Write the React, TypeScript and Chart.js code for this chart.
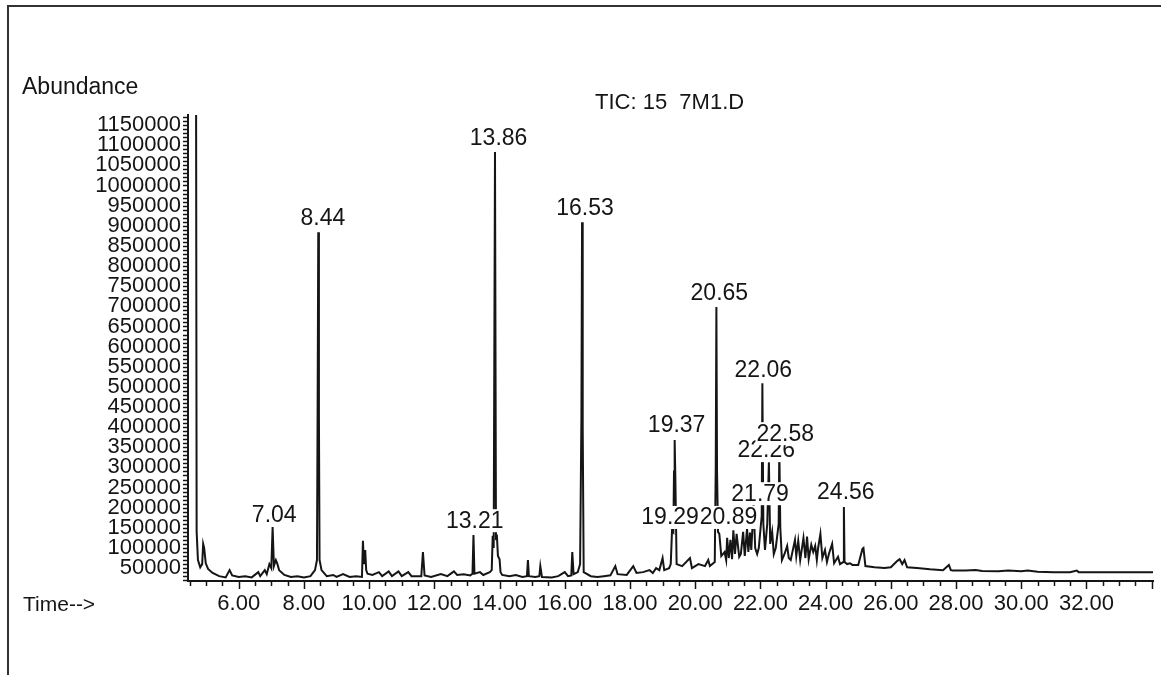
import React, { useEffect, useRef } from "react";
import { Chart, registerables } from "chart.js";

Chart.register(...registerables);

// Retention time (min) of each trace point
const retentionTime = [
  4.69, 4.71, 4.75, 4.82, 4.88, 4.91, 4.94, 4.99, 5.06, 5.20, 5.40, 5.60, 5.72, 5.80, 6.00, 6.20, 6.40,
  6.60, 6.66, 6.80, 6.86, 6.94, 7.00, 7.04, 7.08, 7.14, 7.18, 7.24, 7.40, 7.60, 7.80, 8.00, 8.20,
  8.34, 8.40, 8.42, 8.44, 8.46, 8.48, 8.54, 8.70, 8.90, 9.00, 9.20, 9.40, 9.60, 9.78, 9.81, 9.84, 9.88, 9.91, 9.95,
  10.10, 10.30, 10.40, 10.60, 10.70, 10.90, 11.00, 11.20, 11.30, 11.60, 11.65, 11.70, 11.90, 12.20,
  12.40, 12.60, 12.70, 12.90, 13.10, 13.17, 13.20, 13.23, 13.40, 13.50, 13.70, 13.76, 13.79, 13.82, 13.86, 13.89,
  13.92, 13.95, 14.00, 14.03, 14.08, 14.30, 14.50, 14.70, 14.84, 14.87, 14.90, 15.10, 15.22, 15.25, 15.30, 15.60, 15.80, 16.00,
  16.10, 16.20, 16.23, 16.27, 16.40, 16.47, 16.51, 16.53, 16.55, 16.58, 16.80, 17.00, 17.20, 17.40, 17.55, 17.62, 17.90,
  18.10, 18.20, 18.40, 18.60, 18.70, 18.80, 18.90, 19.00, 19.05, 19.20, 19.25, 19.29, 19.33, 19.35, 19.37, 19.39,
  19.43, 19.60, 19.84, 19.90, 20.10, 20.30, 20.40, 20.45, 20.60, 20.63, 20.65, 20.67, 20.70, 20.74, 20.80, 20.90,
  20.95, 20.98, 21.03, 21.08, 21.13, 21.17, 21.22, 21.27, 21.35, 21.40, 21.47, 21.52, 21.59, 21.63, 21.68, 21.72, 21.79, 21.84, 21.90, 21.95,
  22.04, 22.06, 22.09, 22.14, 22.21, 22.26, 22.30, 22.36, 22.41, 22.47, 22.56, 22.58, 22.61, 22.66, 22.74, 22.82, 22.87, 22.93, 23.06, 23.10, 23.16, 23.22, 23.32,
  23.38, 23.43, 23.48, 23.56, 23.62, 23.68, 23.73, 23.77, 23.84, 23.90, 23.98, 24.04, 24.10, 24.20, 24.26, 24.38, 24.44, 24.54, 24.56, 24.58, 24.66, 24.75, 24.82, 25.00,
  25.13, 25.16, 25.22, 25.50, 25.80, 26.00, 26.20, 26.27, 26.35, 26.42, 26.50, 26.80, 27.20, 27.60, 27.78, 27.84, 27.90,
  28.30, 28.60, 28.80, 29.30, 29.60, 30.00, 30.20, 30.50, 31.00, 31.50, 31.70, 31.76, 32.50, 33.00,
  34.04,
];

// Total ion current abundance at each retention time
const abundance = [
  1400000, 140000, 70000, 52000, 60000, 110000, 100000, 62000, 48000, 38000, 30000, 27000, 45000, 32000, 28000, 30000, 27000,
  40000, 30000, 45000, 35000, 60000, 50000, 152000, 55000, 70000, 62000, 45000, 33000, 28000, 30000, 27000, 30000,
  45000, 70000, 440000, 884000, 430000, 70000, 45000, 30000, 33000, 28000, 35000, 28000, 30000, 28000, 118000, 60000, 95000, 45000, 36000,
  33000, 40000, 30000, 42000, 30000, 42000, 30000, 40000, 30000, 30000, 90000, 32000, 28000, 35000,
  30000, 42000, 33000, 35000, 32000, 36000, 132000, 36000, 40000, 33000, 40000, 45000, 130000, 100000, 1083000, 125000,
  128000, 80000, 72000, 40000, 33000, 30000, 33000, 28000, 30000, 70000, 30000, 28000, 30000, 55000, 28000, 27000, 30000, 40000,
  30000, 32000, 90000, 35000, 40000, 60000, 420000, 909000, 400000, 40000, 30000, 28000, 30000, 32000, 55000, 35000, 33000,
  55000, 38000, 40000, 45000, 38000, 50000, 45000, 75000, 45000, 50000, 60000, 145000, 140000, 290000, 368000, 280000,
  60000, 55000, 75000, 50000, 60000, 55000, 70000, 55000, 65000, 300000, 698000, 290000, 140000, 135000, 80000, 90000,
  70000, 125000, 75000, 120000, 72000, 144000, 85000, 135000, 78000, 85000, 140000, 80000, 148000, 90000, 138000, 95000, 206000, 100000, 85000, 100000,
  180000, 509000, 160000, 95000, 160000, 313000, 110000, 140000, 85000, 100000, 160000, 348000, 150000, 70000, 85000, 105000, 75000, 70000, 120000, 80000, 118000, 70000, 125000,
  75000, 128000, 72000, 108000, 90000, 105000, 70000, 100000, 135000, 75000, 95000, 65000, 85000, 110000, 62000, 78000, 60000, 65000, 202000, 65000, 60000, 62000, 58000, 58000,
  98000, 100000, 55000, 52000, 50000, 52000, 68000, 72000, 60000, 70000, 52000, 50000, 47000, 45000, 58000, 45000, 44000,
  44000, 45000, 43000, 42000, 44000, 42000, 44000, 41000, 40000, 40000, 44000, 40000, 40000, 40000,
  40000,
];

// Y axis labels (abundance)
const yTickValues = [
  50000, 100000, 150000, 200000, 250000, 300000, 350000, 400000, 450000, 500000, 550000, 600000,
  650000, 700000, 750000, 800000, 850000, 900000, 950000, 1000000, 1050000, 1100000, 1150000,
];

// X axis labels (min)
const xTickValues = [6, 8, 10, 12, 14, 16, 18, 20, 22, 24, 26, 28, 30, 32];

// Peak annotations: text, retention time of label centre, abundance of label centre (drawn in this order)
const peakLabelText = ["7.04", "8.44", "13.21", "13.86", "16.53", "19.37", "20.65", "22.06", "19.29", "20.89", "21.79", "22.26", "22.58", "24.56"];
const peakLabelTime = [7.09, 8.58, 13.24, 13.97, 16.62, 19.43, 20.74, 22.09, 19.23, 21.02, 21.99, 22.18, 22.76, 24.62];
const peakLabelAbundance = [182000, 919000, 169000, 1118000, 944000, 405000, 733000, 542000, 177000, 177000, 236000, 343000, 385000, 239000];

const titleText = "TIC: 15  7M1.D";
const yAxisTitle = "Abundance";
const xAxisTitle = "Time-->";

const FONT = "'Liberation Sans', Arial, sans-serif";
const INK = "#151515";

export default function App() {
  const canvasRef = useRef<HTMLCanvasElement | null>(null);

  useEffect(() => {
    const canvas = canvasRef.current;
    if (!canvas) return;

    const annotations = {
      id: "gcmsAnnotations",
      afterDatasetsDraw(chart: any) {
        const { ctx, scales } = chart;
        const xs = scales.x;
        const ys = scales.y;
        ctx.save();
        ctx.font = `23px ${FONT}`;
        ctx.textAlign = "center";
        ctx.textBaseline = "middle";
        for (let i = 0; i < peakLabelText.length; i++) {
          const text = peakLabelText[i];
          const px = xs.getPixelForValue(peakLabelTime[i]);
          const py = ys.getPixelForValue(peakLabelAbundance[i]);
          const w = ctx.measureText(text).width;
          ctx.fillStyle = "#ffffff";
          ctx.fillRect(px - w / 2 - 1, py - 11, w + 2, 23);
          ctx.fillStyle = INK;
          ctx.fillText(text, px, py + 1);
        }
        ctx.restore();
      },
      afterDraw(chart: any) {
        const { ctx, scales, chartArea } = chart;
        const xs = scales.x;
        const ys = scales.y;
        ctx.save();
        ctx.strokeStyle = INK;
        ctx.lineWidth = 1.5;
        // y minor ticks
        for (let v = 20000; v <= 1170000; v += 10000) {
          const py = Math.round(ys.getPixelForValue(v)) + 0.5;
          ctx.beginPath();
          ctx.moveTo(chartArea.left - 5, py);
          ctx.lineTo(chartArea.left - 1, py);
          ctx.stroke();
        }
        // x ticks
        for (let t = 4.5; t <= 34.01; t += 0.5) {
          const px = Math.round(xs.getPixelForValue(t)) + 0.5;
          const major = Math.abs(t - Math.round(t / 2) * 2) < 1e-6;
          ctx.beginPath();
          ctx.moveTo(px, chartArea.bottom + 1);
          ctx.lineTo(px, chartArea.bottom + (major ? 8 : 5));
          ctx.stroke();
        }
        // texts
        ctx.fillStyle = INK;
        ctx.textBaseline = "middle";
        ctx.textAlign = "left";
        ctx.font = `23px ${FONT}`;
        ctx.fillText(yAxisTitle, 22, 88);
        ctx.font = `21px ${FONT}`;
        ctx.fillText(xAxisTitle, 23, 605);
        ctx.font = `22px ${FONT}`;
        ctx.fillText(titleText, 595, 103);
        ctx.restore();
      },
    };

    const chart = new Chart(canvas, {
      type: "line",
      data: {
        datasets: [
          {
            data: retentionTime.map((t, i) => ({ x: t, y: abundance[i] })),
            borderColor: INK,
            borderWidth: 2,
            pointRadius: 0,
            tension: 0,
            fill: false,
          },
        ],
      },
      options: {
        animation: false,
        responsive: false,
        events: [],
        layout: { padding: { left: 0, top: 115, right: 8, bottom: 0 } },
        plugins: {
          legend: { display: false },
          tooltip: { enabled: false },
          title: { display: false },
        },
        scales: {
          x: {
            type: "linear",
            min: 4.445,
            max: 34.04,
            afterFit: (s: any) => {
              s.height = 675 - 581;
            },
            afterBuildTicks: (s: any) => {
              s.ticks = xTickValues.map((v) => ({ value: v }));
            },
            grid: { display: false, drawTicks: false },
            border: { display: true, color: INK, width: 2 },
            ticks: {
              autoSkip: false,
              maxRotation: 0,
              padding: 10,
              color: INK,
              font: { family: FONT, size: 22 },
              callback: (v: any) => Number(v).toFixed(2),
            },
          },
          y: {
            type: "linear",
            min: 18000,
            max: 1175000,
            afterFit: (s: any) => {
              s.width = 188;
            },
            afterBuildTicks: (s: any) => {
              s.ticks = yTickValues.map((v) => ({ value: v }));
            },
            grid: { display: false, drawTicks: false },
            border: { display: true, color: INK, width: 2 },
            ticks: {
              autoSkip: false,
              padding: 7,
              color: INK,
              font: { family: FONT, size: 22 },
              callback: (v: any) => String(v),
            },
          },
        },
      },
      plugins: [annotations],
    });

    return () => chart.destroy();
  }, []);

  return (
    <div style={{ position: "absolute", left: 0, top: 0, width: 1161, height: 675, background: "#ffffff", overflow: "hidden" }}>
      <div
        style={{
          position: "absolute",
          left: 7,
          top: 5,
          width: 1160,
          height: 680,
          borderLeft: "2px solid #333",
          borderTop: "2px solid #333",
        }}
      />
      <canvas ref={canvasRef} width={1161} height={675} style={{ position: "absolute", left: 0, top: 0 }} />
    </div>
  );
}
